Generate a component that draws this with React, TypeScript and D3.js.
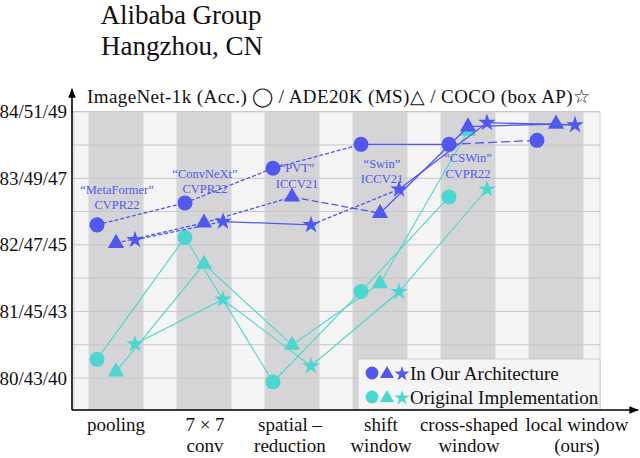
import React from "react";
import * as d3 from "d3";

// ---------- data ----------
const catLine1 = ["pooling", "7 × 7", "spatial –", "shift", "cross-shaped", "local window"];
const catLine2 = ["", "conv", "reduction", "window", "window", "(ours)"];

const yTickIN = [80, 81, 82, 83, 84];
const yTickADE = [43, 45, 47, 49, 51];
const yTickCOCO = [40, 43, 45, 47, 49];

// In Our Architecture (blue)
const oursImageNet = [82.3, 82.63, 83.15, 83.51, 83.51, 83.57];
const oursADE = [47.05, 47.66, 48.44, 47.95, 50.55, 50.63];
const oursCOCO = [45.15, 45.7, 45.6, 46.67, 48.67, 48.6];

// Original Implementation (cyan)
const origImageNet = [80.28, 82.11, 79.94, 81.3, 82.72];
const origADE = [43.19, 46.42, 43.99, 45.84, 50.42];
const origCOCO = [41.53, 43.36, 40.54, 43.59, 46.67];

const annotNames = ["\u201CMetaFormer\u201D", "\u201CConvNeXt\u201D", "\u201CPVT\u201D", "\u201CSwin\u201D", "\u201CCSWin\u201D"];
const annotVenues = ["CVPR22", "CVPR22", "ICCV21", "ICCV21", "CVPR22"];

const titleLines = ["Alibaba Group", "Hangzhou, CN"];
const headerText = "ImageNet-1k (Acc.) \u25EF / ADE20K (MS)\u25B3 / COCO (box AP)\u2606";
const legendLabels = ["In Our Architecture", "Original Implementation"];

// ---------- styles / layout ----------
const BLUE = "#5058ee";
const CYAN = "#4dd6cf";
const SERIF = { fontFamily: "'Liberation Serif'" };

const dashIN = ["4,2", "4,2", "4,2", null, "9,4"];
const dashADE = ["4,2", "4,2", "7,3", null, null];
const dashCOCO = ["4,2", null, "4,2", null, null];

const annotLayout = [
  { dx: 1, dy1: -35, dy2: -20 },
  { dx: 1, dy1: -29, dy2: -14 },
  { dx: 5, dy1: -1, dy2: 15 },
  { dx: 2, dy1: 19, dy2: 34 },
  { dx: 0, dy1: 13, dy2: 29 },
];
const xLabelDx = [0, 1, -2, 1, 1, 21];

const W = 640;
const H = 458;
const axisX = 72;
const axisY = 410;
const plotRight = 600;

export default function App() {
  const x = d3.scalePoint<number>().domain(d3.range(6)).range([axisX, plotRight]).padding(0.5);
  const step = x.step();
  const barW = step * 0.625;

  const yIN = d3.scaleLinear().domain([80, 84]).range([378, 111.7]);
  const yADE = d3.scaleLinear().domain([43, 51]).range([378, 111.7]);
  const yCOCO = d3.scaleLinear().domain(yTickCOCO).range(yTickIN.map((v) => yIN(v)));

  const offC = -19, offT = 0, offS = 19;

  const circle = d3.symbol(d3.symbolCircle, 177)();
  const tri = d3.symbol(d3.symbolTriangle, 115)();
  const star = d3.symbol(d3.symbolStar, 95)();
  const circleS = d3.symbol(d3.symbolCircle, 130)();
  const triS = d3.symbol(d3.symbolTriangle, 85)();
  const starS = d3.symbol(d3.symbolStar, 70)();

  const grid = d3.range(80, 84.01, 0.5);

  type Pt = [number, number];
  const ptsOf = (vals: number[], sc: (v: number) => number, off: number): Pt[] =>
    vals.map((v, i) => [(x(i) as number) + off, sc(v)]);

  const blueIN = ptsOf(oursImageNet, yIN, offC);
  const blueADE = ptsOf(oursADE, yADE, offT);
  const blueCOCO = ptsOf(oursCOCO, yCOCO, offS);
  const cyanIN = ptsOf(origImageNet, yIN, offC);
  const cyanADE = ptsOf(origADE, yADE, offT);
  const cyanCOCO = ptsOf(origCOCO, yCOCO, offS);

  const line = d3.line<Pt>();

  const segs = (pts: Pt[], dashes: (string | null)[], key: string) =>
    pts.slice(1).map((p, i) => (
      <path
        key={key + i}
        d={line([pts[i], p]) as string}
        fill="none"
        stroke={BLUE}
        strokeWidth={1.3}
        strokeDasharray={dashes[i] || undefined}
      />
    ));

  const marks = (pts: Pt[], shape: string, color: string, key: string) =>
    pts.map((p, i) => (
      <path key={key + i} d={shape} transform={`translate(${p[0]},${p[1]})`} fill={color} />
    ));

  return (
    <svg width={W} height={H} style={{ position: "absolute", left: 0, top: 0 }}>
      <defs>
        <marker id="arr" viewBox="0 0 10 10" refX="9" refY="5" markerWidth="6" markerHeight="6" orient="auto">
          <path d="M0,1 L10,5 L0,9 z" fill="#000" />
        </marker>
      </defs>
      <rect width={W} height={H} fill="#fff" />

      <text x={181} y={24} fontSize={27} textAnchor="middle" fill="#111" style={SERIF}>{titleLines[0]}</text>
      <text x={182} y={55} fontSize={27} textAnchor="middle" fill="#111" style={SERIF}>{titleLines[1]}</text>

      <rect x={axisX + 2} y={yIN(84)} width={plotRight - axisX - 2} height={axisY - yIN(84)} fill="#f5f5f5" stroke="#cfcfcf" />
      {d3.range(6).map((i) => (
        <rect key={"bar" + i} x={(x(i) as number) - barW / 2} y={yIN(84)} width={barW} height={axisY - yIN(84)} fill="#d5d5d7" />
      ))}
      {grid.map((g) => (
        <line key={"g" + g} x1={axisX} x2={plotRight} y1={yIN(g)} y2={yIN(g)} stroke="#c6c6c6" strokeWidth={1} />
      ))}

      <text x={87} y={103} fontSize={19} fill="#111" style={SERIF} textLength={503} lengthAdjust="spacing">{headerText}</text>

      {yTickIN.map((v, i) => (
        <text key={"yt" + v} x={67} y={yIN(v) + 6.5} fontSize={19} textAnchor="end" fill="#111" style={SERIF}>
          {`${v}/${yTickADE[i]}/${yTickCOCO[i]}`}
        </text>
      ))}

      {[cyanIN, cyanADE, cyanCOCO].map((pts, k) => (
        <path key={"cl" + k} d={line(pts) as string} fill="none" stroke={CYAN} strokeWidth={1.1} />
      ))}
      {marks(cyanIN, circle, CYAN, "cc")}
      {marks(cyanADE, tri, CYAN, "ct")}
      {marks(cyanCOCO, star, CYAN, "cs")}

      {segs(blueIN, dashIN, "bi")}
      {segs(blueADE, dashADE, "ba")}
      {segs(blueCOCO, dashCOCO, "bc")}
      {marks(blueIN, circle, BLUE, "bc")}
      {marks(blueADE, tri, BLUE, "bt")}
      {marks(blueCOCO, star, BLUE, "bs")}

      {annotNames.map((n, i) => {
        const cx = (x(i) as number) + annotLayout[i].dx;
        const cy = blueIN[i][1];
        return (
          <g key={"an" + i} fill={BLUE} fontSize={12.5} textAnchor="middle">
            <text x={cx} y={cy + annotLayout[i].dy1 + 4.5} style={SERIF}>{n}</text>
            <text x={cx} y={cy + annotLayout[i].dy2 + 4.5} style={SERIF}>{annotVenues[i]}</text>
          </g>
        );
      })}

      <rect x={358} y={359} width={plotRight - 358} height={axisY - 359} fill="#f5f5f5" stroke="#cccccc" />
      {legendLabels.map((l, i) => {
        const cy = 373 + i * 24;
        const col = i === 0 ? BLUE : CYAN;
        return (
          <g key={"lg" + i}>
            <path d={circleS} transform={`translate(372,${cy})`} fill={col} />
            <path d={triS} transform={`translate(387,${cy + 1})`} fill={col} />
            <path d={starS} transform={`translate(402,${cy + 1})`} fill={col} />
            <text x={410} y={cy + 6.5} fontSize={19} fill="#111" style={SERIF}>{l}</text>
          </g>
        );
      })}

      <line x1={axisX} y1={axisY} x2={axisX} y2={89} stroke="#000" strokeWidth={1.6} markerEnd="url(#arr)" />
      <line x1={axisX} y1={axisY} x2={638} y2={axisY} stroke="#000" strokeWidth={1.6} markerEnd="url(#arr)" />

      {catLine1.map((c, i) => (
        <g key={"xl" + i} fontSize={19} textAnchor="middle" fill="#111">
          <text x={(x(i) as number) + xLabelDx[i]} y={431} style={SERIF}>{c}</text>
          {catLine2[i] && <text x={(x(i) as number) + xLabelDx[i]} y={452} style={SERIF}>{catLine2[i]}</text>}
        </g>
      ))}
    </svg>
  );
}
